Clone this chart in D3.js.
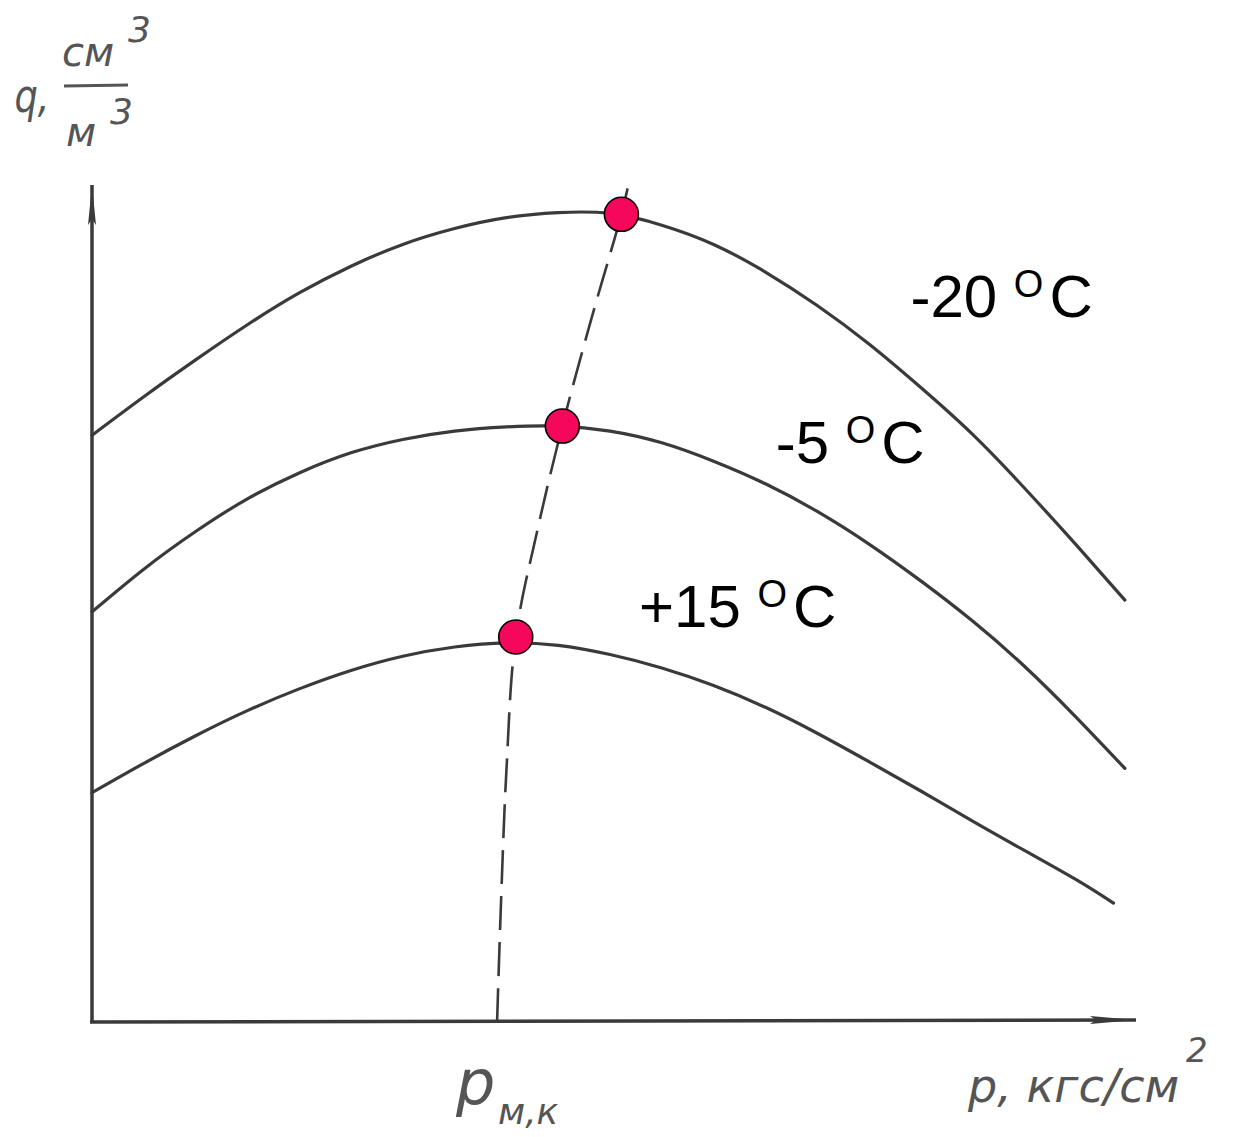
<!DOCTYPE html>
<html><head><meta charset="utf-8">
<script src="https://cdn.jsdelivr.net/npm/d3@7"></script>
<style>body{margin:0;background:#fff}svg{display:block}</style>
</head><body>
<script>
// ---- data (arbitrary units: x = pressure p, y = q) ----
const xGrid = [0,0.5,1,1.5,2,2.5,3,3.5,4,4.5,5,5.5,6,6.5,7,7.5,8,8.5,9,9.5,9.97];
const qMinus20 = [7.01,7.47,7.91,8.33,8.71,9.03,9.29,9.48,9.61,9.67,9.66,9.52,9.29,8.96,8.56,8.10,7.58,7.02,6.38,5.70,5.04];
const qMinus5  = [4.90,5.41,5.86,6.25,6.56,6.80,6.96,7.06,7.11,7.12,7.06,6.92,6.70,6.43,6.10,5.71,5.27,4.79,4.25,3.64,3.03];
const xGrid15 = [0,0.5,1,1.5,2,2.5,3,3.5,4,4.5,5,5.5,6,6.5,7,7.5,8,8.5,9,9.5,9.86];
const qPlus15  = [2.74,3.09,3.42,3.72,3.98,4.20,4.37,4.48,4.53,4.50,4.39,4.23,4.02,3.76,3.45,3.11,2.76,2.40,2.05,1.70,1.42];
const seriesLabels = ["-20", "-5", "+15"];
const maxPointsX = [5.11, 4.54, 4.09];
const maxPointsY = [9.65, 7.12, 4.60];
const dashX = [3.91,3.95,4.00,4.09,4.30,4.54,4.82,5.11,5.17];
const dashY = [0.00,1.50,3.00,4.60,5.88,7.12,8.40,9.65,9.96];
const labelPos = [[7.9,8.42],[6.6,6.68],[5.28,4.72]];

const W = 1243, H = 1137;
const svg = d3.select("body").append("svg").attr("width", W).attr("height", H);
const x = d3.scaleLinear().domain([0,10]).range([92,1128]);
const y = d3.scaleLinear().domain([0,10]).range([1022,185]);

const ink = "#3a3a3a";
// axes
const defs = svg.append("defs");
defs.append("marker").attr("id","arrY").attr("viewBox","0 0 10 40").attr("refX",5).attr("refY",0)
  .attr("markerWidth",10).attr("markerHeight",40).attr("markerUnits","userSpaceOnUse").attr("orient","0")
  .append("path").attr("d","M5,0 L9,40 L5,34 L1,40 Z").attr("fill",ink);
defs.append("marker").attr("id","arrX").attr("viewBox","0 0 46 10").attr("refX",46).attr("refY",5)
  .attr("markerWidth",46).attr("markerHeight",10).attr("markerUnits","userSpaceOnUse").attr("orient","0")
  .append("path").attr("d","M0,1 L46,5 L0,9 L6,5 Z").attr("fill",ink);

svg.append("line").attr("x1",x(0)).attr("y1",y(0)).attr("x2",x(0)).attr("y2",y(10))
  .attr("stroke",ink).attr("stroke-width",3.5).attr("marker-end","url(#arrY)");
svg.append("line").attr("x1",x(0)-2).attr("y1",y(0)).attr("x2",1136).attr("y2",y(0)-2)
  .attr("stroke",ink).attr("stroke-width",3.5).attr("marker-end","url(#arrX)");

// curves
const line = d3.line().curve(d3.curveNatural);
const curves = [
  xGrid.map((v,i)=>[x(v), y(qMinus20[i])]),
  xGrid.map((v,i)=>[x(v), y(qMinus5[i])]),
  xGrid15.map((v,i)=>[x(v), y(qPlus15[i])])
];
curves.forEach(c => svg.append("path").attr("d", line(c)).attr("fill","none")
  .attr("stroke", ink).attr("stroke-width", 3.2).attr("stroke-linecap","round"));

// dashed locus
const dline = d3.line().curve(d3.curveCatmullRom.alpha(0.5));
svg.append("path").attr("d", dline(dashX.map((v,i)=>[x(v), y(dashY[i])])))
  .attr("fill","none").attr("stroke", ink).attr("stroke-width", 2.6).attr("stroke-dasharray","34,12");

// markers
svg.selectAll("circle.m").data(maxPointsX).enter().append("circle")
  .attr("cx", (d)=>x(d)).attr("cy", (d,i)=>y(maxPointsY[i])).attr("r", 17)
  .attr("fill", "#f5085c").attr("stroke", "#000").attr("stroke-width", 1.6);

// temperature labels
seriesLabels.forEach((s,i) => {
  const t = svg.append("text").attr("x", x(labelPos[i][0])).attr("y", y(labelPos[i][1]))
    .attr("font-family","Liberation Sans, Arial, sans-serif").attr("font-size", 60).attr("fill","#000");
  t.append("tspan").text(s + " ");
  t.append("tspan").attr("font-size", 38).attr("dy", -20).text("O");
  t.append("tspan").attr("dy", 20).attr("dx", 6).text("C");
});

// hand-written axis labels
const hw = {family:"DejaVu Sans, sans-serif", fill:"#555"};
function htext(tx, ty, txt, size, extra) {
  const t = svg.append("text").attr("x", tx).attr("y", ty).text(txt)
    .attr("font-family", hw.family).attr("font-style","italic").attr("font-size", size).attr("fill", hw.fill);
  if (extra) extra(t);
  return t;
}
htext(14, 112, "q,", 46, t=>t.attr("transform","scale(0.8,1)").attr("x", 18));
htext(62, 66, "см", 40);
htext(128, 42, "3", 36);
svg.append("line").attr("x1",64).attr("x2",128).attr("y1",86).attr("y2",85).attr("stroke","#555").attr("stroke-width",3);
htext(66, 146, "м", 40);
htext(110, 124, "3", 36);

htext(456, 1104, "р", 62);
htext(498, 1124, "м,к", 36);
htext(968, 1102, "р, кгс/см", 46);
htext(1186, 1062, "2", 34);
</script>
</body></html>
